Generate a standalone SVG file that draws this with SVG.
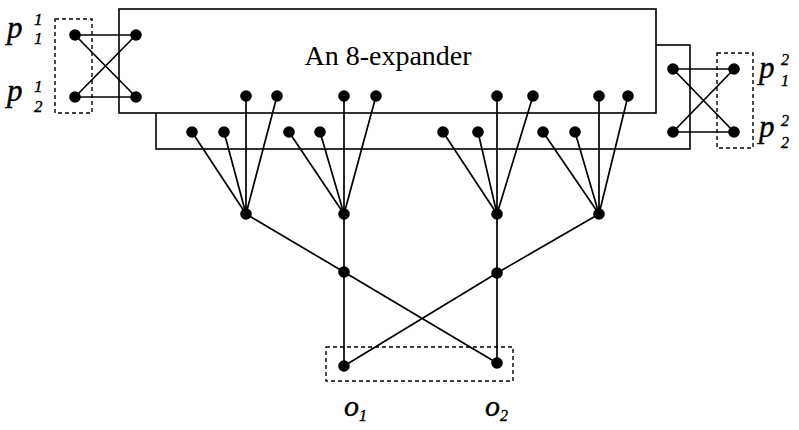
<svg xmlns="http://www.w3.org/2000/svg" width="799" height="430" viewBox="0 0 799 430">
<style>
.box{fill:#fff;stroke:#000;stroke-width:1.6}
.dash{fill:none;stroke:#000;stroke-width:1.4;stroke-dasharray:4,3}
.e{stroke:#000;stroke-width:1.7;fill:none}
.n{fill:#000}
.t{font-family:"Liberation Serif",serif;fill:#000}
.i{font-family:"Liberation Serif",serif;font-style:italic;fill:#000;stroke:#000;stroke-width:0.4}
</style>
<rect width="799" height="430" fill="#fff"/>
<g id="expander">
<rect class="box" x="156" y="45" width="534" height="104"/>
<rect class="box" x="119" y="9" width="537" height="104"/>
<text class="t" x="388" y="65" font-size="28" text-anchor="middle">An 8-expander</text>
</g>
<g id="groups">
<rect class="dash" x="55" y="19" width="37" height="94"/>
<rect class="dash" x="717" y="53" width="36" height="95"/>
<rect class="dash" x="326" y="347" width="187" height="34"/>
</g>
<g id="connectors">
<path class="e" d="M75,35H136M75,97H136M75,35L136,97M75,97L136,35"/>
<path class="e" d="M673,69H734M673,132H734M673,69L734,132M673,132L734,69"/>
<path class="e" d="M246,214L192,132M246,214L224,132M246,214L246,96M246,214L277,96"/>
<path class="e" d="M344,214L289,132M344,214L320,132M344,214L344,96M344,214L376,96"/>
<path class="e" d="M497,214L443,132M497,214L478,132M497,214L497,96M497,214L533,96"/>
<path class="e" d="M599,214L543,132M599,214L575,132M599,214L599,96M599,214L628,96"/>
<path class="e" d="M246,214L344,272M344,214L344,272M497,214L497,273M599,214L497,273"/>
<path class="e" d="M344,272L344,366M344,272L497,363M497,273L497,363M497,273L344,366"/>
</g>
<g id="nodes" class="n">
<circle cx="75" cy="35" r="5.8"/><circle cx="136" cy="35" r="5.8"/>
<circle cx="75" cy="97" r="5.8"/><circle cx="136" cy="97" r="5.8"/>
<circle cx="673" cy="69" r="5.8"/><circle cx="734" cy="69" r="5.8"/>
<circle cx="673" cy="132" r="5.8"/><circle cx="734" cy="132" r="5.8"/>
<circle cx="246" cy="96" r="5.8"/><circle cx="277" cy="96" r="5.8"/>
<circle cx="344" cy="96" r="5.8"/><circle cx="376" cy="96" r="5.8"/>
<circle cx="497" cy="96" r="5.8"/><circle cx="533" cy="96" r="5.8"/>
<circle cx="599" cy="96" r="5.8"/><circle cx="628" cy="96" r="5.8"/>
<circle cx="192" cy="132" r="5.8"/><circle cx="224" cy="132" r="5.8"/>
<circle cx="289" cy="132" r="5.8"/><circle cx="320" cy="132" r="5.8"/>
<circle cx="443" cy="132" r="5.8"/><circle cx="478" cy="132" r="5.8"/>
<circle cx="543" cy="132" r="5.8"/><circle cx="575" cy="132" r="5.8"/>
<circle cx="246" cy="214" r="5.8"/><circle cx="344" cy="214" r="5.8"/>
<circle cx="497" cy="214" r="5.8"/><circle cx="599" cy="214" r="5.8"/>
<circle cx="344" cy="272" r="5.8"/><circle cx="497" cy="273" r="5.8"/>
<circle cx="344" cy="366" r="5.8"/><circle cx="497" cy="363" r="5.8"/>
</g>
<g id="labels">
<text class="i" x="7" y="38" font-size="31">p</text>
<text class="i" x="34" y="25" font-size="17">1</text>
<text class="i" x="34" y="44" font-size="17">1</text>
<text class="i" x="7" y="101" font-size="31">p</text>
<text class="i" x="34" y="92" font-size="17">1</text>
<text class="i" x="34" y="112" font-size="17">2</text>
<text class="i" x="759" y="78" font-size="31">p</text>
<text class="i" x="781" y="65" font-size="16">2</text>
<text class="i" x="781" y="86" font-size="16">1</text>
<text class="i" x="759" y="137" font-size="31">p</text>
<text class="i" x="781" y="126" font-size="16">2</text>
<text class="i" x="781" y="148" font-size="16">2</text>
<text class="i" x="344" y="416" font-size="30">o</text>
<text class="i" x="359" y="421" font-size="16">1</text>
<text class="i" x="485" y="416" font-size="30">o</text>
<text class="i" x="500" y="421" font-size="16">2</text>
</g>
</svg>
